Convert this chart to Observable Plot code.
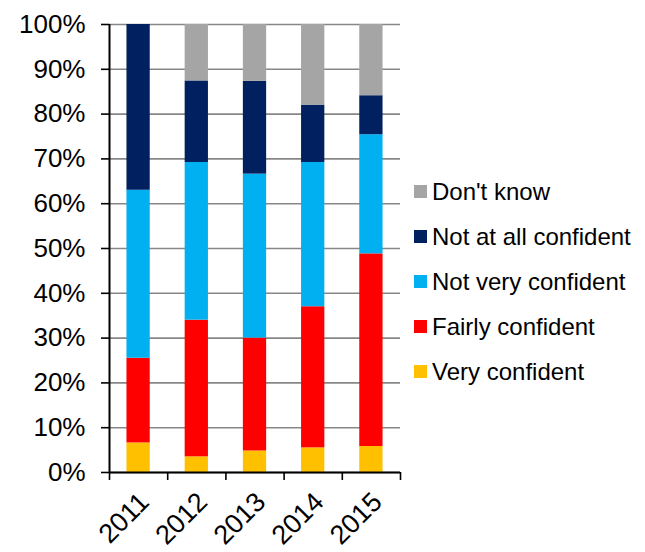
<!DOCTYPE html>
<html>
<head>
<meta charset="utf-8">
<script src="https://cdn.jsdelivr.net/npm/d3@7"></script>
<script src="https://cdn.jsdelivr.net/npm/@observablehq/plot@0.6"></script>
<style>
  html, body { margin: 0; padding: 0; background: #fff; }
  #wrap { position: relative; width: 645px; height: 552px; font-family: "Liberation Sans", Arial, sans-serif; }
  #legend { position: absolute; left: 414px; top: 169px; }
  .row { display: flex; align-items: center; height: 45px; font-size: 24px; color: #000; white-space: nowrap; }
  .sw { width: 13px; height: 13px; margin-right: 5px; flex: none; }
</style>
</head>
<body>
<div id="wrap"><div id="legend"></div></div>
<script>
const years = ["2011", "2012", "2013", "2014", "2015"];
const categories = ["Very confident", "Fairly confident", "Not very confident", "Not at all confident", "Don't know"];
const colors = ["#FFC000", "#FF0000", "#00B0F0", "#002060", "#A5A5A5"];

// Share of respondents (%) per year, bottom to top of each stack
const veryConfident     = [6.6, 3.5, 4.8, 5.5, 5.8];
const fairlyConfident   = [18.9, 30.5, 25.2, 31.5, 43.0];
const notVeryConfident  = [37.5, 35.2, 36.6, 32.2, 26.6];
const notAtAllConfident = [37.0, 18.2, 20.7, 12.8, 8.7];
const dontKnow          = [0.0, 12.6, 12.7, 18.0, 15.9];

const yTicks = [0, 10, 20, 30, 40, 50, 60, 70, 80, 90, 100];

const series = [veryConfident, fairlyConfident, notVeryConfident, notAtAllConfident, dontKnow];

// Cumulative segments for the stacked columns
const rows = [];
years.forEach((year, i) => {
  let base = 0;
  categories.forEach((category, k) => {
    const v = series[k][i];
    rows.push({year, i, category, y1: base, y2: base + v});
    base += v;
  });
});

const font = "Liberation Sans, Arial, sans-serif";

const chart = Plot.plot({
  width: 645,
  height: 552,
  marginLeft: 109,
  marginRight: 245,
  marginTop: 24,
  marginBottom: 80,
  style: {fontFamily: font, fontSize: "26px", color: "#000", background: "#fff", overflow: "visible"},
  x: {type: "linear", domain: [0, years.length], axis: null},
  y: {domain: [0, 100], axis: null},
  color: {domain: categories, range: colors},
  marks: [
    Plot.gridY(yTicks, {stroke: "#878787", strokeOpacity: 1, strokeWidth: 1.6}),
    Plot.rect(rows, {x1: d => d.i + 0.3, x2: d => d.i + 0.7, y1: "y1", y2: "y2", fill: "category"}),
    Plot.axisY(yTicks, {tickSize: 8, tickPadding: 16, stroke: "#000", strokeWidth: 1.6, fill: "#000", fontSize: 26, tickFormat: d => d + "%"}),
    Plot.axisX(d3.range(years.length + 1), {tickSize: 8, stroke: "#000", strokeWidth: 1.6, tickFormat: () => ""}),
    Plot.ruleX([0], {stroke: "#000", strokeWidth: 2}),
    Plot.ruleY([0], {stroke: "#000", strokeWidth: 2}),
    Plot.text(years, {x: (d, i) => i + 0.5, y: 0, text: d => d, rotate: -45, textAnchor: "end", dx: 6, dy: 25, fontSize: 27, fill: "#000"})
  ]
});

const wrap = document.getElementById("wrap");
wrap.insertBefore(chart, wrap.firstChild);

// Legend, top entry is the top of the stack
const legend = document.getElementById("legend");
categories.slice().reverse().forEach(name => {
  const row = document.createElement("div");
  row.className = "row";
  const sw = document.createElement("span");
  sw.className = "sw";
  sw.style.background = colors[categories.indexOf(name)];
  const label = document.createElement("span");
  label.textContent = name;
  row.appendChild(sw);
  row.appendChild(label);
  legend.appendChild(row);
});
</script>
</body>
</html>
